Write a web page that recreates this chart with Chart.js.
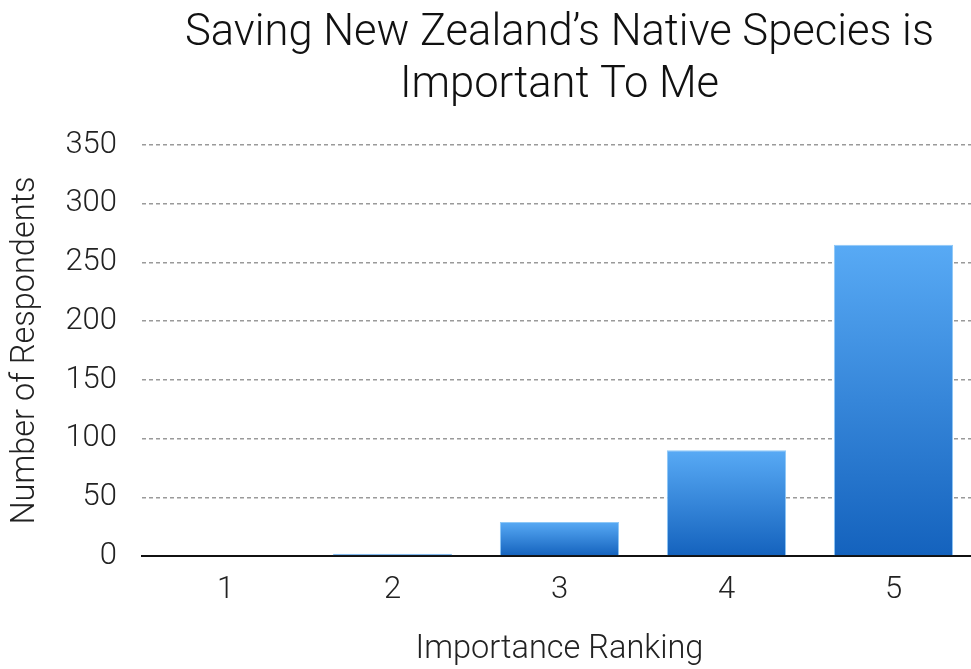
<!DOCTYPE html>
<html>
<head>
<meta charset="utf-8">
<script src="https://cdn.jsdelivr.net/npm/chart.js@4/dist/chart.umd.min.js"></script>
<style>
  html, body { margin: 0; padding: 0; background: #fff; overflow: hidden; width: 971px; height: 669px; }
  #wrap { width: 985px; height: 669px; }
</style>
</head>
<body>
<div id="wrap"><canvas id="c" width="985" height="669"></canvas></div>
<script>
const categories = ['1', '2', '3', '4', '5'];
const respondents = [0, 2, 29, 90, 265];
const yTicks = [0, 50, 100, 150, 200, 250, 300, 350];
const chartTitle = ['Saving New Zealand\u2019s Native Species is', 'Important To Me'];
const xTitle = 'Importance Ranking';
const yTitle = 'Number of Respondents';

const FONT = "'Roboto', 'Liberation Sans', sans-serif";

function barGradient(ctx) {
  const chart = ctx.chart;
  const area = chart.chartArea;
  if (!area || !chart.scales.y) return '#2f7fd6';
  const top = chart.scales.y.getPixelForValue(ctx.raw);
  const bottom = chart.scales.y.getPixelForValue(0);
  if (bottom - top < 2) return '#1a6cc8';
  const g = chart.ctx.createLinearGradient(0, top, 0, bottom);
  g.addColorStop(0, '#58aaf5');
  g.addColorStop(1, '#1462bd');
  return g;
}

new Chart(document.getElementById('c'), {
  type: 'bar',
  data: {
    labels: categories,
    datasets: [{
      data: respondents,
      backgroundColor: barGradient,
      borderColor: '#8ec8f7',
      borderWidth: 1,
      borderSkipped: 'bottom',
      categoryPercentage: 1,
      barPercentage: 0.714
    }]
  },
  options: {
    responsive: false,
    devicePixelRatio: 1,
    animation: false,
    layout: { padding: { left: 0, right: 8, top: 0, bottom: 0 } },
    plugins: {
      legend: { display: false },
      tooltip: { enabled: false },
      title: {
        display: true,
        text: chartTitle,
        fullSize: false,
        color: '#111',
        font: { family: FONT, size: 43.5, weight: '300', lineHeight: 1.2 },
        padding: { top: 8, bottom: 32.6 }
      }
    },
    scales: {
      x: {
        grid: { display: false, drawTicks: false },
        border: { display: true, color: '#111', width: 2 },
        ticks: { color: '#222', font: { family: FONT, size: 31, weight: '300' }, padding: 16 },
        title: {
          display: true, text: xTitle, color: '#222',
          font: { family: FONT, size: 32.5, weight: '300' },
          padding: { top: 0, bottom: 0 }
        },
        afterFit: (s) => { s.height = 113; }
      },
      y: {
        min: 0, max: 350,
        afterBuildTicks: (s) => { s.ticks = yTicks.map(v => ({ value: v })); },
        grid: {
          drawTicks: false,
          color: (c) => (c.tick && c.tick.value === 0) ? 'rgba(0,0,0,0)' : '#9a9a9a',
          lineWidth: 1.5
        },
        border: { display: false, dash: [4, 3] },
        ticks: { color: '#222', font: { family: FONT, size: 31, weight: '300' }, padding: 25 },
        title: {
          display: true, text: yTitle, color: '#222',
          font: { family: FONT, size: 32.5, weight: '300' },
          padding: { top: 6, bottom: 0 }
        },
        afterFit: (s) => { s.width = 142; }
      }
    }
  }
});
</script>
</body>
</html>
